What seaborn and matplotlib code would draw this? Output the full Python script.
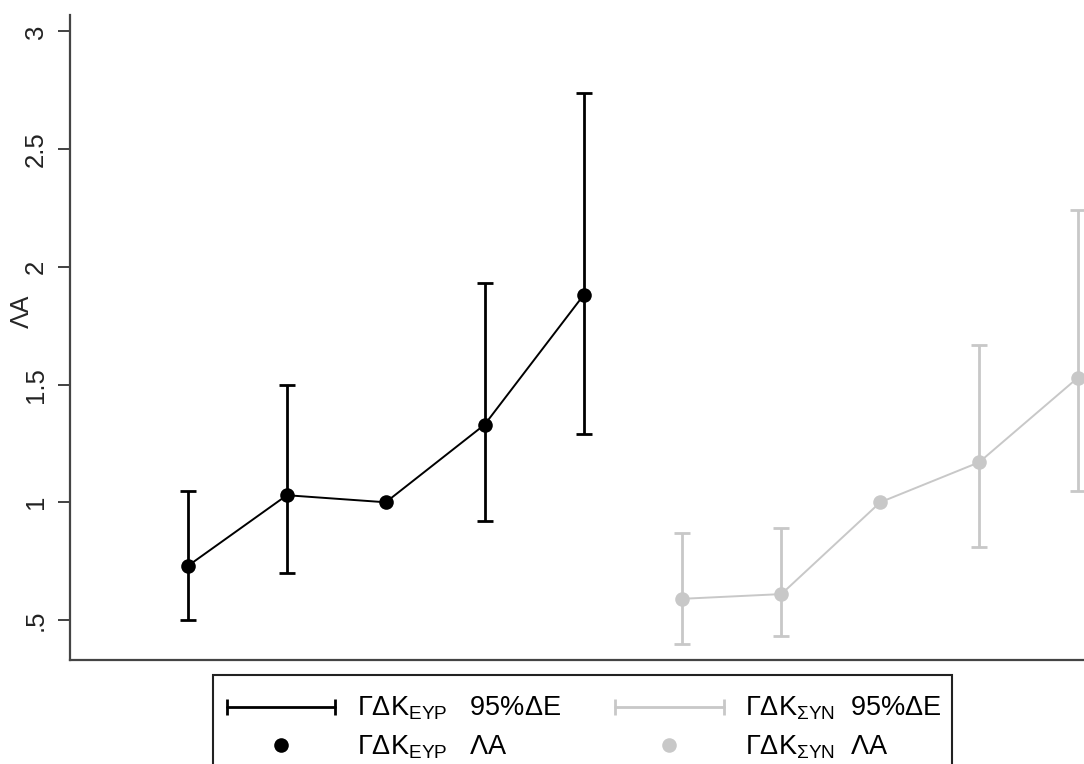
import numpy as np
import pandas as pd
import matplotlib
matplotlib.use("Agg")
import matplotlib.pyplot as plt
from matplotlib.lines import Line2D
from matplotlib.patches import Rectangle
from matplotlib.legend_handler import HandlerLine2D
import seaborn as sns

# point estimates (ΛΑ) and 95% CI
x_eyr = [1, 2, 3, 4, 5]
la_eyr = [0.73, 1.03, 1.00, 1.33, 1.88]
lo_eyr = [0.50, 0.70, np.nan, 0.92, 1.29]
hi_eyr = [1.05, 1.50, np.nan, 1.93, 2.74]

x_syn = [6, 7, 8, 9, 10]
la_syn = [0.59, 0.61, 1.00, 1.17, 1.53]
lo_syn = [0.40, 0.43, np.nan, 0.81, 1.05]
hi_syn = [0.87, 0.89, np.nan, 1.67, 2.24]

groups = ["ΕΥΡ", "ΣΥΝ"]
yticks = [0.5, 1, 1.5, 2, 2.5, 3]
ytick_labels = [".5", "1", "1.5", "2", "2.5", "3"]

sns.set_style("ticks")
plt.rcParams["font.family"] = ["Liberation Sans", "DejaVu Sans"]
plt.rcParams["mathtext.fontset"] = "custom"
plt.rcParams["mathtext.rm"] = "Liberation Sans"
plt.rcParams["mathtext.it"] = "Liberation Sans:italic"
plt.rcParams["text.color"] = "black"

colors = {"ΕΥΡ": "black", "ΣΥΝ": "#c8c8c8"}

df = pd.DataFrame({
    "x": x_eyr + x_syn,
    "la": la_eyr + la_syn,
    "lo": lo_eyr + lo_syn,
    "hi": hi_eyr + hi_syn,
    "group": [groups[0]] * len(x_eyr) + [groups[1]] * len(x_syn),
})

W, H = 1084, 764
fig = plt.figure(figsize=(W / 100, H / 100), dpi=100)
ax = fig.add_axes([70 / W, 104 / H, 1014 / W, 645 / H])

# confidence intervals
for g in groups:
    d = df[(df["group"] == g) & df["lo"].notna()]
    ax.errorbar(d["x"], d["la"], yerr=[d["la"] - d["lo"], d["hi"] - d["la"]],
                fmt="none", ecolor=colors[g], elinewidth=2.0, capsize=5.5,
                capthick=2.0, zorder=2)

sns.lineplot(data=df, x="x", y="la", hue="group", palette=colors, marker="o",
             markersize=10.5, markeredgewidth=0, linewidth=1.4, legend=False,
             ax=ax, zorder=3)

ax.set_xlim(-0.193, 10.06)
ax.set_ylim(0.33, 3.07)
ax.set_xticks([])
ax.set_xlabel("")
ax.set_yticks(yticks)
ax.set_yticklabels(ytick_labels, rotation=90, va="center")
ax.tick_params(axis="y", length=9, width=1.3, pad=7, labelsize=18.5,
               colors="#333333", labelcolor="#222222")
ax.set_ylabel("ΛΑ", fontsize=18)
ax.yaxis.set_label_coords(-0.036, 0.54)
sns.despine(ax=ax)
for s in ["left", "bottom"]:
    ax.spines[s].set_color("#444444")
    ax.spines[s].set_linewidth(1.6)

# legend in Stata style: frame drawn separately, runs off the bottom edge
fig.patches.append(Rectangle((213 / W, -0.05), (952 - 213) / W, (764 - 675) / H + 0.05,
                             transform=fig.transFigure, fill=False,
                             edgecolor="#222222", linewidth=1.5))

ci_eyr = Line2D([0], [0], color="black", lw=2.0, marker="|", markersize=11, markeredgewidth=2.0)
pt_eyr = Line2D([0], [0], color="black", lw=0, marker="o", markersize=10.5, markeredgewidth=0)
ci_syn = Line2D([0], [0], color="#c8c8c8", lw=2.0, marker="|", markersize=11, markeredgewidth=2.0)
pt_syn = Line2D([0], [0], color="#c8c8c8", lw=0, marker="o", markersize=10.5, markeredgewidth=0)
handles = [ci_eyr, pt_eyr, ci_syn, pt_syn]
labels = [r"ΓΔΚ$_{\mathrm{ΕΥΡ}}$   95%ΔΕ", r"ΓΔΚ$_{\mathrm{ΕΥΡ}}$   ΛΑ",
          r"ΓΔΚ$_{\mathrm{ΣΥΝ}}$  95%ΔΕ", r"ΓΔΚ$_{\mathrm{ΣΥΝ}}$  ΛΑ"]
hmap = {ci_eyr: HandlerLine2D(numpoints=2, marker_pad=0),
        ci_syn: HandlerLine2D(numpoints=2, marker_pad=0),
        pt_eyr: HandlerLine2D(numpoints=1),
        pt_syn: HandlerLine2D(numpoints=1)}
fig.legend(handles, labels, handler_map=hmap, ncol=2, mode="expand",
           loc="upper left",
           bbox_to_anchor=(227 / W, 1 - 695 / H, (942 - 227) / W, 0.0),
           fontsize=19.5, frameon=False,
           handlelength=4.0, handletextpad=0.8, borderpad=0,
           labelspacing=0.4, borderaxespad=0)

fig.savefig("out.png", dpi=100)
